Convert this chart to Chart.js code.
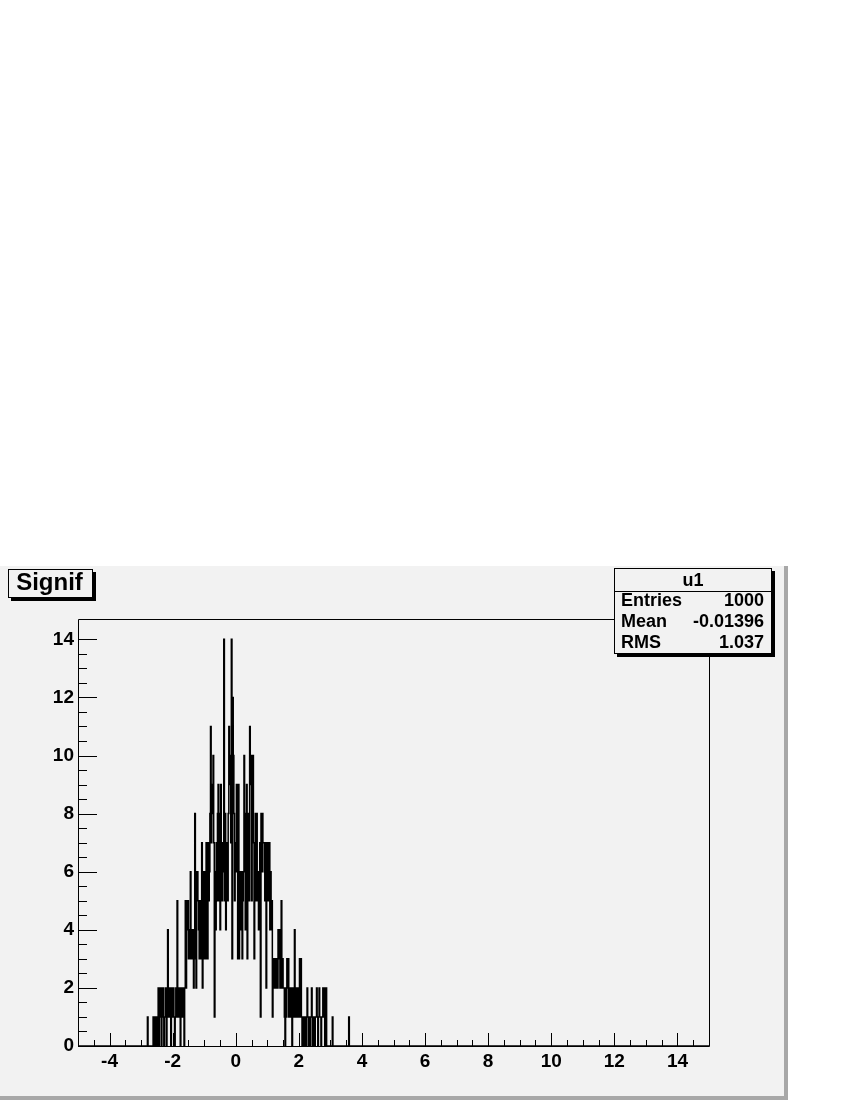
<!DOCTYPE html>
<html>
<head>
<meta charset="utf-8">
<script src="https://cdn.jsdelivr.net/npm/chart.js@4"></script>
<style>
  html, body { margin: 0; padding: 0; background: #ffffff; }
  canvas { display: block; }
</style>
</head>
<body>
<canvas id="c" width="850" height="1100"></canvas>
<script>
// ---- data ----
const histTitle = 'Signif';
const binLow = -5;
const binHigh = 15;
const nBins = 1000;            // bin width 0.02
const firstBin = 110;          // index of first listed bin (x = -2.80)
const counts = [
  1,0,0,0,0,0,0,0,
  0,1,0,1,1,0,1,0,
  1,2,0,1,2,1,0,2,
  1,2,0,1,1,2,0,1,
  4,1,2,1,2,0,2,1,
  1,2,1,0,1,2,1,5,
  1,2,1,2,0,1,2,1,
  2,1,0,2,5,2,5,4,
  5,3,4,3,6,4,3,4,
  4,2,3,8,6,2,5,6,
  5,4,3,5,4,3,7,2,
  6,3,5,6,3,7,5,3,
  7,5,6,8,11,7,8,9,
  10,7,1,6,4,7,5,8,
  9,5,8,4,9,7,5,6,
  7,14,5,8,4,7,6,5,
  8,11,9,10,7,14,3,12,
  10,8,5,7,6,9,8,3,
  9,3,6,5,4,6,3,5,
  6,10,8,4,7,9,3,6,
  8,5,11,9,10,5,8,10,
  7,3,6,8,5,8,6,5,
  4,6,7,1,8,6,8,7,
  7,6,5,7,2,6,7,5,
  6,7,4,6,4,5,1,3,
  3,2,3,2,3,2,2,4,
  3,4,2,3,5,2,3,2,
  2,1,0,2,1,3,2,3,
  1,2,1,2,1,0,2,1,
  1,4,2,1,2,1,2,1,
  2,3,1,3,1,0,1,1,
  0,1,1,0,1,2,1,0,
  1,1,0,1,2,1,0,1,
  1,0,1,1,2,1,0,1,
  2,1,1,0,1,1,2,1,
  2,0,1,2,0,0,0,0,
  0,0,0,0,0,1,0,0,
  0,0,0,0,0,0,0,0,
  0,0,0,0,0,0,0,0,
  0,0,0,0,0,0,0,1
];
const xLabelValues = [-4, -2, 0, 2, 4, 6, 8, 10, 12, 14];
const yLabelValues = [0, 2, 4, 6, 8, 10, 12, 14];
const yMax = 14.7;
const statsName = 'u1';
const statsLabels = ['Entries', 'Mean', 'RMS'];
const statsValues = ['1000', '-0.01396', '1.037'];

// ---- build histogram points (bin low edges, step drawing) ----
const points = [];
for (let i = 0; i < nBins; i++) {
  const x = (binLow * 100 + i * 2) / 100;
  const k = i - firstBin;
  const y = (k >= 0 && k < counts.length) ? counts[k] : 0;
  points.push({ x: x, y: y });
}
points.push({ x: binHigh, y: 0 });

const FONT = '"Liberation Sans", Arial, Helvetica, sans-serif';
const GRAY = '#f2f2f2';

function isLabel(list, v) { return list.some(l => Math.abs(l - v) < 1e-6); }
function isHalf(v) { return Math.abs(v * 2 - Math.round(v * 2)) < 1e-6; }

const rootPlugin = {
  id: 'rootLook',
  beforeDraw(chart) {
    const ctx = chart.ctx;
    ctx.save();
    ctx.fillStyle = '#ffffff';
    ctx.fillRect(0, 0, chart.width, chart.height);
    ctx.fillStyle = GRAY;
    ctx.fillRect(0, 566, 788, 534);
    ctx.fillStyle = '#a8a8a8';
    ctx.fillRect(784, 566, 4, 534);
    ctx.fillRect(0, 1096, 788, 4);
    ctx.restore();
  },
  beforeDatasetsDraw(chart) {
    const ctx = chart.ctx;
    const a = chart.chartArea;
    const xs = chart.scales.x, ys = chart.scales.y;
    ctx.save();
    ctx.strokeStyle = '#000';
    ctx.lineWidth = 1;
    ctx.beginPath();
    ctx.rect(Math.round(a.left) + 0.5, Math.round(a.top) + 0.5,
             Math.round(a.right - a.left), Math.round(a.bottom - a.top));
    ctx.stroke();
    ctx.beginPath();
    xs.ticks.forEach(t => {
      if (!isHalf(t.value)) return;
      if (t.value <= binLow || t.value >= binHigh) return;
      const px = Math.round(xs.getPixelForValue(t.value)) + 0.5;
      const len = isLabel(xLabelValues, t.value) ? 13 : 6;
      ctx.moveTo(px, a.bottom);
      ctx.lineTo(px, a.bottom - len);
    });
    ys.ticks.forEach(t => {
      if (!isHalf(t.value)) return;
      const py = Math.round(ys.getPixelForValue(t.value)) + 0.5;
      const len = isLabel(yLabelValues, t.value) ? 19 : 9;
      ctx.moveTo(a.left, py);
      ctx.lineTo(a.left + len, py);
    });
    ctx.stroke();
    ctx.restore();
  },
  afterDraw(chart) {
    const ctx = chart.ctx;
    ctx.save();
    // title box
    ctx.fillStyle = '#000';
    ctx.fillRect(11, 572, 85, 29);
    ctx.fillStyle = GRAY;
    ctx.fillRect(8, 569, 85, 29);
    ctx.strokeStyle = '#000';
    ctx.lineWidth = 1;
    ctx.strokeRect(8.5, 569.5, 84, 28);
    ctx.fillStyle = '#000';
    ctx.font = 'bold 24px ' + FONT;
    ctx.textAlign = 'center';
    ctx.textBaseline = 'alphabetic';
    ctx.fillText(histTitle, 49.5, 590);

    // stats box
    const L = 614, T = 568, W = 158, H = 86;
    ctx.fillStyle = '#000';
    ctx.fillRect(L + 3, T + 3, W, H);
    ctx.fillStyle = GRAY;
    ctx.fillRect(L, T, W, H);
    ctx.strokeRect(L + 0.5, T + 0.5, W - 1, H - 1);
    ctx.beginPath();
    ctx.moveTo(L, 591.5);
    ctx.lineTo(L + W, 591.5);
    ctx.stroke();
    ctx.fillStyle = '#000';
    ctx.font = 'bold 18px ' + FONT;
    ctx.textAlign = 'center';
    ctx.fillText(statsName, L + W / 2, 586);
    const base = [606, 627, 648];
    statsLabels.forEach((lab, i) => {
      ctx.textAlign = 'left';
      ctx.fillText(lab, 621, base[i]);
      ctx.textAlign = 'right';
      ctx.fillText(statsValues[i], 764, base[i]);
    });
    ctx.restore();
  }
};

new Chart(document.getElementById('c'), {
  type: 'line',
  data: {
    datasets: [{
      data: points,
      stepped: true,
      borderColor: '#000000',
      borderWidth: 1.5,
      pointRadius: 0,
      fill: false,
      tension: 0
    }]
  },
  options: {
    responsive: false,
    animation: false,
    events: [],
    layout: { padding: { top: 619, right: 141, left: 0, bottom: 0 } },
    plugins: { legend: { display: false }, tooltip: { enabled: false } },
    scales: {
      x: {
        type: 'linear',
        min: binLow,
        max: binHigh,
        grid: { display: false, drawTicks: false },
        border: { display: false },
        ticks: {
          stepSize: 0.5,
          autoSkip: false,
          maxRotation: 0,
          padding: 4,
          color: '#000',
          font: { family: FONT, size: 19, weight: 'bold' },
          callback: v => isLabel(xLabelValues, v) ? String(Math.round(v)) : ''
        },
        afterFit(s) { s.height = 54; }
      },
      y: {
        type: 'linear',
        min: 0,
        max: yMax,
        grid: { display: false, drawTicks: false },
        border: { display: false },
        ticks: {
          stepSize: 0.5,
          autoSkip: false,
          padding: 4,
          color: '#000',
          font: { family: FONT, size: 19, weight: 'bold' },
          callback: v => isLabel(yLabelValues, v) ? String(Math.round(v)) : ''
        },
        afterFit(s) { s.width = 78; }
      }
    }
  },
  plugins: [rootPlugin]
});
</script>
</body>
</html>
